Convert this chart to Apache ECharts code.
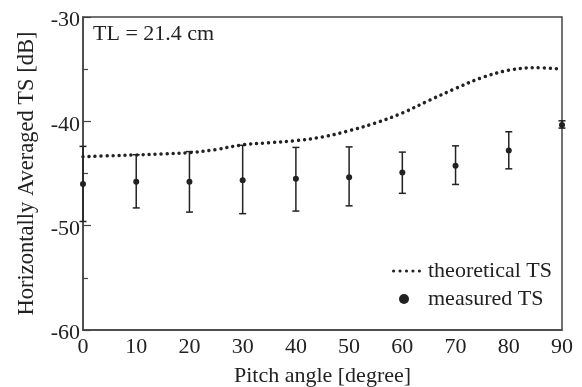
<!DOCTYPE html>
<html>
<head>
<meta charset="utf-8">
<script src="https://cdn.jsdelivr.net/npm/echarts@6/dist/echarts.min.js"></script>
<style>
  html, body { margin: 0; padding: 0; background: #fff; }
  #chart { width: 582px; height: 387px; }
</style>
</head>
<body>
<div id="chart"></div>
<script>
const FONT = '"Liberation Serif", "Times New Roman", serif'
const INK = '#222'

// theoretical curve, read every 5 degrees
const theoryAngles = [0, 5, 10, 15, 20, 25, 30, 35, 40, 45, 50, 55, 60, 65, 70, 75, 80, 85, 90]
const theoryTS = [-43.4, -43.3, -43.22, -43.12, -43.0, -42.7, -42.25, -42.05, -41.85, -41.5,
  -40.9, -40.15, -39.2, -38.0, -36.85, -35.8, -35.1, -34.85, -35.0]

// measured TS with error bars
const angles = [0, 10, 20, 30, 40, 50, 60, 70, 80, 90]
const measuredMean = [-46.0, -45.8, -45.8, -45.65, -45.5, -45.35, -44.9, -44.25, -42.8, -40.35]
const measuredUpper = [-42.4, -43.2, -42.9, -42.3, -42.5, -42.45, -42.95, -42.35, -41.0, -39.95]
const measuredLower = [-49.6, -48.3, -48.7, -48.85, -48.6, -48.1, -46.9, -46.05, -44.55, -40.65]

// legend sample for the dotted curve: five dots
const dotsIcon = 'path://' + [0, 1, 2, 3, 4].map(k => {
  const cx = 1.6 + k * 6.5
  return 'M' + cx + ',0A1.6,1.6 0 1,1 ' + cx + ',3.2A1.6,1.6 0 1,1 ' + cx + ',0Z'
}).join(' ')

const chart = echarts.init(document.getElementById('chart'))

const option = {
  animation: false,
  backgroundColor: '#fff',
  textStyle: { fontFamily: FONT, color: INK },
  grid: {
    left: 83, right: 20, top: 17, bottom: 57,
    outerBoundsMode: 'none',
    show: true, borderColor: '#444', borderWidth: 1.5
  },
  legend: [
    {
      data: [{ name: 'theoretical TS', icon: dotsIcon }],
      left: 387, top: 255,
      itemWidth: 29, itemHeight: 3.2, itemGap: 0,
      itemStyle: { color: INK, borderWidth: 0 },
      textStyle: { fontFamily: FONT, fontSize: 22, color: INK, padding: [0, 0, 0, 2] }
    },
    {
      data: [{ name: 'measured TS', icon: 'circle' }],
      left: 394, top: 283,
      itemWidth: 10, itemHeight: 10, itemGap: 0,
      itemStyle: { color: INK, borderWidth: 0, opacity: 1 },
      textStyle: { fontFamily: FONT, fontSize: 22, color: INK, padding: [0, 0, 0, 14] }
    }
  ],
  graphic: [
    {
      type: 'text', left: 93, top: 23,
      style: { text: 'TL = 21.4 cm', font: '22px ' + FONT, fill: INK }
    }
  ],
  xAxis: {
    type: 'value', min: 0, max: 90, interval: 10,
    name: 'Pitch angle [degree]', nameLocation: 'middle', nameGap: 35,
    nameTextStyle: { fontFamily: FONT, fontSize: 22, color: INK },
    axisLine: { lineStyle: { color: '#444', width: 1.5 } },
    axisTick: { show: false },
    axisLabel: { fontFamily: FONT, fontSize: 22, color: INK, margin: 6 },
    splitLine: { show: false }
  },
  yAxis: {
    type: 'value', min: -60, max: -30, interval: 10,
    name: 'Horizontally Averaged TS [dB]', nameLocation: 'middle', nameGap: 44,
    nameTextStyle: { fontFamily: FONT, fontSize: 22.5, color: INK },
    axisLine: { show: true, lineStyle: { color: '#444', width: 1.5 } },
    axisTick: { show: true, inside: true, length: 8, lineStyle: { color: '#444', width: 1.2 } },
    minorTick: { show: true, splitNumber: 2, length: 5, lineStyle: { color: '#444', width: 1.2 } },
    axisLabel: {
      margin: 3,
      formatter: '{v|{value}}',
      rich: { v: { fontFamily: FONT, fontSize: 22, color: INK, padding: [7, 0, 0, 0] } }
    },
    splitLine: { show: false }
  },
  series: [
    {
      name: 'theoretical TS',
      type: 'line',
      data: theoryAngles.map((a, i) => [a, theoryTS[i]]),
      smooth: 0.35,
      showSymbol: false,
      itemStyle: { color: INK },
      lineStyle: { color: INK, width: 3.5, type: [0.01, 6], cap: 'round' },
      z: 3
    },
    {
      name: 'errorbars',
      type: 'custom',
      data: angles.map((a, i) => [a, measuredLower[i], measuredUpper[i]]),
      encode: { x: 0, y: [1, 2] },
      renderItem: (params, api) => {
        const x = api.value(0)
        const lo = api.coord([x, api.value(1)])
        const hi = api.coord([x, api.value(2)])
        const w = 3.5
        const st = { stroke: INK, lineWidth: 1.5 }
        return {
          type: 'group',
          children: [
            { type: 'line', shape: { x1: hi[0], y1: hi[1], x2: lo[0], y2: lo[1] }, style: st },
            { type: 'line', shape: { x1: hi[0] - w, y1: hi[1], x2: hi[0] + w, y2: hi[1] }, style: st },
            { type: 'line', shape: { x1: lo[0] - w, y1: lo[1], x2: lo[0] + w, y2: lo[1] }, style: st }
          ]
        }
      },
      z: 4
    },
    {
      name: 'measured TS',
      type: 'scatter',
      data: angles.map((a, i) => [a, measuredMean[i]]),
      symbol: 'circle',
      symbolSize: 6,
      itemStyle: { color: INK, opacity: 1 },
      z: 5
    }
  ]
}

chart.setOption(option)
</script>
</body>
</html>
